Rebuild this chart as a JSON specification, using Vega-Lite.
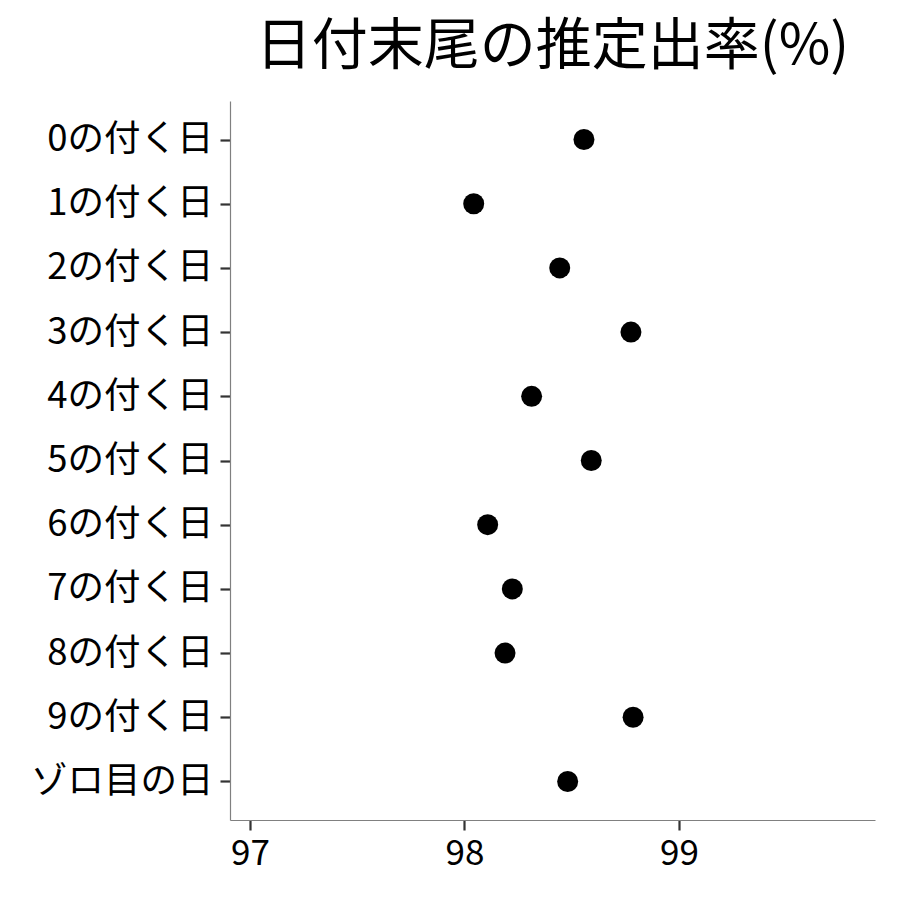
{
  "$schema": "https://vega.github.io/schema/vega-lite/v6.json",
  "autosize": "none",
  "padding": {"left": 230, "top": 101, "right": 25, "bottom": 80},
  "width": 645,
  "height": 719,
  "background": "white",
  "title": {
    "text": "日付末尾の推定出率(%)",
    "font": "Noto Sans CJK JP",
    "fontSize": 56,
    "fontWeight": "normal",
    "color": "black",
    "anchor": "middle",
    "frame": "group",
    "offset": 25
  },
  "data": {
    "values": [
      {"day": "0の付く日", "rate": 98.557},
      {"day": "1の付く日", "rate": 98.043},
      {"day": "2の付く日", "rate": 98.444},
      {"day": "3の付く日", "rate": 98.776},
      {"day": "4の付く日", "rate": 98.313},
      {"day": "5の付く日", "rate": 98.591},
      {"day": "6の付く日", "rate": 98.108},
      {"day": "7の付く日", "rate": 98.223},
      {"day": "8の付く日", "rate": 98.189},
      {"day": "9の付く日", "rate": 98.786},
      {"day": "ゾロ目の日", "rate": 98.481}
    ]
  },
  "mark": {"type": "point", "filled": true, "shape": "circle", "size": 440, "color": "black", "opacity": 1},
  "encoding": {
    "x": {
      "field": "rate",
      "type": "quantitative",
      "scale": {"domain": [96.9068, 99.9138], "nice": false, "zero": false},
      "axis": {"values": [97, 98, 99], "title": null, "grid": false, "labelPadding": 6, "labelFontSize": 35}
    },
    "y": {
      "field": "day",
      "type": "nominal",
      "sort": null,
      "scale": {"type": "point", "padding": 0.6},
      "axis": {"title": null, "grid": false, "labelPadding": 7, "labelFontSize": 36.5, "labelLimit": 400}
    }
  },
  "config": {
    "view": {"stroke": null},
    "axis": {
      "labelFont": "Noto Sans CJK JP",
      "labelColor": "black",
      "domainColor": "#808080",
      "domainWidth": 1.2,
      "tickColor": "#333333",
      "tickWidth": 2.2,
      "tickSize": 10
    }
  }
}
